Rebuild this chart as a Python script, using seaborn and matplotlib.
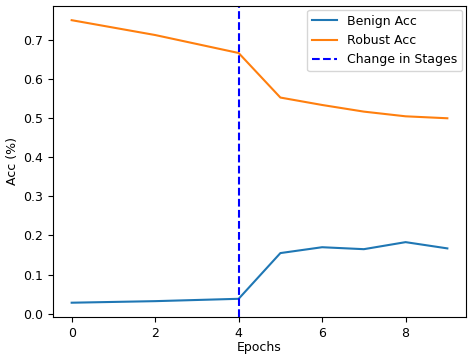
import numpy as np
import pandas as pd
import matplotlib
matplotlib.use("Agg")
import matplotlib.pyplot as plt
import seaborn as sns

epochs = list(range(10))
benign_acc = [0.028, 0.030, 0.032, 0.035, 0.038, 0.155, 0.170, 0.165, 0.183, 0.167]
robust_acc = [0.751, 0.732, 0.713, 0.690, 0.667, 0.553, 0.534, 0.517, 0.505, 0.500]
stage_change = 4

plt.rcParams["font.size"] = 9

df = pd.DataFrame({"epoch": epochs, "Benign Acc": benign_acc, "Robust Acc": robust_acc})

fig, ax = plt.subplots(figsize=(4.68, 3.56), dpi=100)
sns.lineplot(data=df, x="epoch", y="Benign Acc", ax=ax, color="#1f77b4", label="Benign Acc")
sns.lineplot(data=df, x="epoch", y="Robust Acc", ax=ax, color="#ff7f0e", label="Robust Acc")
ax.axvline(stage_change, color="blue", ls="--", label="Change in Stages")
ax.set_xlabel("Epochs", labelpad=1)
ax.set_ylabel("Acc (%)", labelpad=3)
ax.legend(loc="upper right", borderaxespad=0.3)
fig.subplots_adjust(left=0.113, right=0.996, top=0.983, bottom=0.11)
fig.savefig("out.png", dpi=100)
